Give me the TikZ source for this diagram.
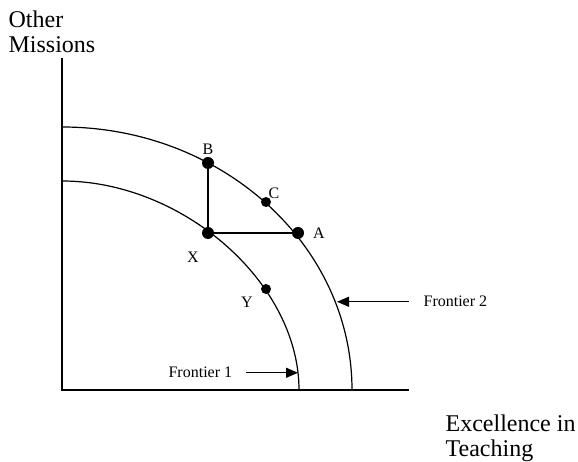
\documentclass[tikz,border=0pt]{standalone}
\usepackage{fontspec}
\setmainfont{Liberation Serif}
\usetikzlibrary{calc}
\usetikzlibrary{arrows.meta}
\usetikzlibrary{positioning}

\begin{document}
\begin{tikzpicture}[x=1pt, y=1pt, line width=1.2pt]
    \tikzset{
        axislabel/.style={font=\fontsize{24}{25}\selectfont, align=left, inner sep=0pt},
        ptlabel/.style={font=\fontsize{16}{19}\selectfont, inner sep=0pt},
        pointer/.style={-{Triangle[length=12pt,width=10pt]}, line width=1.3pt}
    }

    \useasboundingbox (0,0) rectangle (578,462);

    % Constants
    \pgfmathsetmacro{\xzero}{62}
    \pgfmathsetmacro{\yzero}{72}

    % Axes
    \coordinate (O) at (\xzero, \yzero);
    \coordinate (Ytop) at (\xzero, 404);
    \coordinate (Xend) at (409, \yzero);
    \draw [line width=1.4pt] (Ytop) -- (O) -- (Xend);

    % Frontiers
    \draw (\xzero, 281) .. controls (183, 281) and (299, 179) .. (299, \yzero);
    \draw (\xzero, 335) .. controls (222, 335) and (352, 217) .. (352, \yzero);

    % Points
    \coordinate (B) at (208, 299);
    \coordinate (C) at (266, 260);
    \coordinate (A) at (298, 229);
    \coordinate (X) at (208, 229);
    \coordinate (Y) at (266, 173);

    % Moves from X
    \draw [line width=1.8pt] (B) -- (X) -- (A);

    \fill (B) circle [radius=6pt];
    \fill (X) circle [radius=6pt];
    \fill (A) circle [radius=6pt];
    \fill (C) circle [radius=5pt];
    \fill (Y) circle [radius=5pt];

    \node (labB) [ptlabel] at ($(B) + (0, 14)$) {B};
    \node (labC) [ptlabel] at ($(C) + (8, 9)$) {C};
    \node (labA) [ptlabel] at ($(A) + (21, 0)$) {A};
    \node (labX) [ptlabel] at ($(X) + (-15, -24)$) {X};
    \node (labY) [ptlabel] at ($(Y) + (-19, -13)$) {Y};

    % Axis titles (base = last line)
    \node (other) [axislabel, anchor=base west] at (8, 409) {Other\\Missions};
    \node (excel) [axislabel, anchor=base west] at (445, 5) {Excellence in\\Teaching};

    % Frontier pointers
    \coordinate (tipone) at (298, 89);
    \coordinate (tiptwo) at (337, 159);
    \node (frone) [ptlabel, anchor=base west] at (168, 84) {Frontier 1};
    \node (frtwo) [ptlabel, anchor=base west] at (423, 155) {Frontier 2};
    \draw [pointer] ([xshift=13pt]frone.east) -- (frone.east -| tipone);
    \draw [pointer] ([xshift=-14pt]frtwo.west) -- (frtwo.west -| tiptwo);

\end{tikzpicture}
\end{document}
